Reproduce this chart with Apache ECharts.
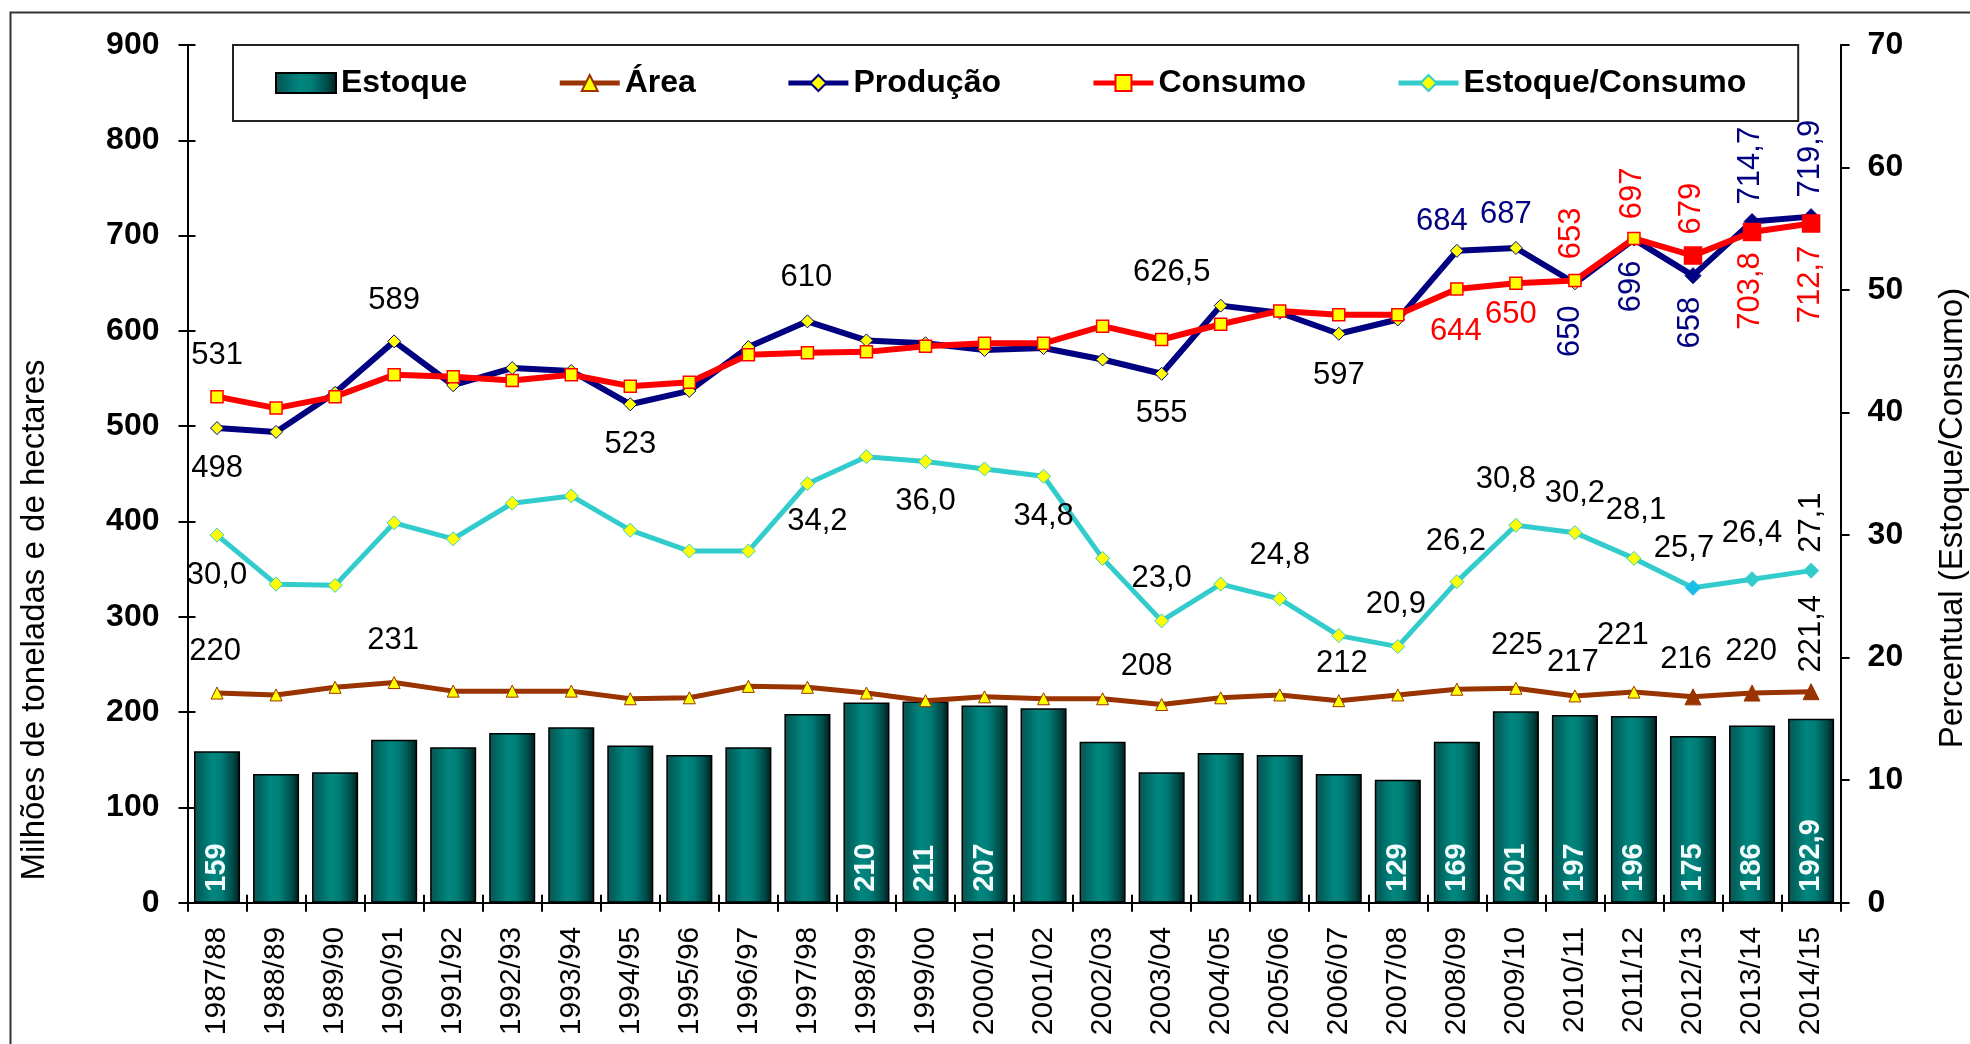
<!DOCTYPE html>
<html>
<head>
<meta charset="utf-8">
<script src="https://cdn.jsdelivr.net/npm/echarts@6/dist/echarts.min.js"></script>
<style>
html,body{margin:0;padding:0;background:#fff;}
#chart{width:1970px;height:1044px;}
</style>
</head>
<body>
<div id="chart"></div>
<script>
// ---------------- DATA ----------------
const categories = ['1987/88','1988/89','1989/90','1990/91','1991/92','1992/93','1993/94','1994/95','1995/96','1996/97','1997/98','1998/99','1999/00','2000/01','2001/02','2002/03','2003/04','2004/05','2005/06','2006/07','2007/08','2008/09','2009/10','2010/11','2011/12','2012/13','2013/14','2014/15'];
const estoque = [159, 135, 137, 171, 163, 178, 184, 165, 155, 163, 198, 210, 211, 207, 204, 169, 137, 157, 155, 135, 129, 169, 201, 197, 196, 175, 186, 192.9];
const area = [220, 218, 226, 231, 222, 222, 222, 214, 215, 227, 226, 220, 212, 216, 214, 214, 208, 215, 218, 212, 218, 224, 225, 217, 221, 216, 220, 221.4];
const producao = [498, 494, 535, 589, 543, 561, 558, 523, 537, 583, 610, 590, 587, 580, 582, 570, 555, 626.5, 619, 597, 612, 684, 687, 650, 696, 658, 714.7, 719.9];
const consumo = [531, 519, 531, 554, 552, 548, 554, 542, 546, 575, 577, 578, 584, 587, 587, 605, 591, 607, 621, 617, 617, 644, 650, 653, 697, 679, 703.8, 712.7];
const estoqueConsumo = [30.0, 26.0, 25.9, 31.0, 29.7, 32.6, 33.2, 30.4, 28.7, 28.7, 34.2, 36.4, 36.0, 35.4, 34.8, 28.1, 23.0, 26.0, 24.8, 21.8, 20.9, 26.2, 30.8, 30.2, 28.1, 25.7, 26.4, 27.1];
const leftTicks = [0, 100, 200, 300, 400, 500, 600, 700, 800, 900];
const rightTicks = [0, 10, 20, 30, 40, 50, 60, 70];
const seriesNames = ['Estoque', 'Área', 'Produção', 'Consumo', 'Estoque/Consumo'];

// ---------------- LAYOUT / STYLE ----------------
const projectionFrom = 25;
const FONT = "'Liberation Sans', Arial, Helvetica, sans-serif";
const NAVY = '#000080', RED = '#ff0000', BROWN = '#993300', TURQ = '#33cccc', YELLOW = '#ffff00';
// which bars show their value
const barLabelIdx = [0, 11, 12, 13, 20, 21, 22, 23, 24, 25, 26, 27];
// label placements (screen offsets from the point): [index, dx, dy, color, rotate]
const producaoLab = [[0,0,40,'#000',0],[3,0,-41,'#000',0],[7,0,40,'#000',0],[10,-1,-44,'#000',0],[16,0,40,'#000',0],[17,-49,-33,'#000',0],[19,0,42,'#000',0],[21,-15,-29,NAVY,0],[22,-10,-34,NAVY,0],[23,-4,48,NAVY,90],[24,-3,47,NAVY,90],[25,-3,47,NAVY,90],[26,-2,-56,NAVY,90],[27,-1,-58,NAVY,90]];
const consumoLab = [[0,0,-41,'#000',0],[21,-1,42,RED,0],[22,-5,31,RED,0],[23,-3,-47,RED,90],[24,-2,-45,RED,90],[25,-2,-47,RED,90],[26,-2,59,RED,90],[27,-1,61,RED,90]];
const ecLab = [[0,0,40,'#000',0],[10,10,38,'#000',0],[12,0,40,'#000',0],[14,0,40,'#000',0],[16,0,-42,'#000',0],[18,0,-43,'#000',0],[20,-2,-42,'#000',0],[21,-1,-40,'#000',0],[22,-10,-46,'#000',0],[23,0,-39,'#000',0],[24,2,-48,'#000',0],[25,-9,-39,'#000',0],[26,0,-46,'#000',0],[27,0,-48,'#000',90]];
const areaLab = [[0,-2,-42,'#000',0],[3,-1,-42,'#000',0],[16,-15,-38,'#000',0],[19,3,-37,'#000',0],[22,1,-43,'#000',0],[23,-2,-33,'#000',0],[24,-11,-57,'#000',0],[25,-7,-37,'#000',0],[26,-1,-42,'#000',0],[27,0,-58,'#000',90]];

function fmt(v){ return Number.isInteger(v) ? String(v) : v.toFixed(1).replace('.', ','); }
function fmt1(v){ return v.toFixed(1).replace('.', ','); }

function buildLine(values, labs, formatter, projStyle){
  const map = {};
  labs.forEach(l => { map[l[0]] = l; });
  return values.map((v, i) => {
    const item = { value: v };
    const l = map[i];
    if (l) {
      // offsets are applied in the label's rotated frame
      const off = l[4] === 90 ? [-l[2], l[1]] : [l[1], l[2]];
      item.label = { show: true, position: 'inside', offset: off, color: l[3], rotate: l[4],
        align: 'center', verticalAlign: 'middle', fontSize: 31, fontFamily: FONT,
        formatter: () => formatter(v) };
    }
    if (i >= projectionFrom && projStyle) {
      const s = projStyle(i);
      item.symbolSize = s.size;
      item.itemStyle = { color: s.color, borderColor: s.color };
    }
    return item;
  });
}

const barData = estoque.map((v, i) => {
  const item = { value: v };
  if (barLabelIdx.indexOf(i) >= 0) {
    item.label = { show: true, position: 'insideBottom', distance: 11, rotate: 90, align: 'left', verticalAlign: 'middle',
      color: '#f2fbfb', fontSize: 29, fontWeight: 'bold', fontFamily: FONT, formatter: () => fmt(v) };
  }
  return item;
});

const barGradient = new echarts.graphic.LinearGradient(0, 0, 1, 0, [
  { offset: 0, color: '#1d4f4d' },
  { offset: 0.12, color: '#00625e' },
  { offset: 0.4, color: '#00877f' },
  { offset: 0.6, color: '#007c76' },
  { offset: 0.85, color: '#004a47' },
  { offset: 1, color: '#001a19' }
]);

const legendData = [
  { name: 'Estoque', icon: 'rect', itemStyle: { color: barGradient, borderColor: '#000', borderWidth: 2 } },
  { name: 'Área', lineStyle: { width: 5, color: BROWN } },
  { name: 'Produção', lineStyle: { width: 5, color: NAVY } },
  { name: 'Consumo', lineStyle: { width: 5, color: RED } },
  { name: 'Estoque/Consumo', lineStyle: { width: 5, color: TURQ } }
];

const chart = echarts.init(document.getElementById('chart'), null, { renderer: 'canvas' });
const axisTxt = { color: '#000', fontFamily: FONT };
const option = {
  animation: false,
  backgroundColor: '#fff',
  textStyle: { fontFamily: FONT },
  grid: { left: 187.5, right: 129.4, top: 45, bottom: 141.3, containLabel: false },
  legend: {
    data: legendData,
    left: 233, top: 45,
    orient: 'horizontal',
    padding: [22, 52, 22, 42],
    itemGap: 90,
    itemWidth: 60, itemHeight: 20,
    borderColor: '#222', borderWidth: 2, backgroundColor: '#fff',
    lineStyle: { width: 5 },
    textStyle: { fontSize: 32, fontWeight: 'bold', color: '#000', fontFamily: FONT },
    selectedMode: false
  },
  xAxis: [{
    type: 'category', data: categories, boundaryGap: true,
    axisLine: { lineStyle: { color: '#000', width: 2 } },
    axisTick: { show: true, interval: 0, length: 9, lineStyle: { color: '#000', width: 2 } },
    axisLabel: { interval: 0, rotate: 90, margin: 24, fontSize: 30, ...axisTxt },
    splitLine: { show: false }
  }, {
    type: 'category', data: categories, boundaryGap: true, position: 'bottom', offset: 0,
    axisLine: { show: false },
    axisTick: { show: true, inside: true, interval: 0, length: 8, lineStyle: { color: '#000', width: 2 } },
    axisLabel: { show: false }, splitLine: { show: false }
  }],
  yAxis: [{
    type: 'value', min: leftTicks[0], max: leftTicks[leftTicks.length - 1], interval: leftTicks[1] - leftTicks[0],
    position: 'left',
    axisLine: { show: true, lineStyle: { color: '#000', width: 2 } },
    axisTick: { show: true, length: 9, lineStyle: { color: '#000', width: 2 } },
    axisLabel: { margin: 28, fontSize: 32, fontWeight: 'bold', ...axisTxt },
    splitLine: { show: false }
  }, {
    type: 'value', min: rightTicks[0], max: rightTicks[rightTicks.length - 1], interval: rightTicks[1] - rightTicks[0],
    position: 'right',
    axisLine: { show: true, lineStyle: { color: '#000', width: 2 } },
    axisTick: { show: true, length: 9, lineStyle: { color: '#000', width: 2 } },
    axisLabel: { margin: 27, fontSize: 32, fontWeight: 'bold', ...axisTxt },
    splitLine: { show: false }
  }, {
    type: 'value', min: leftTicks[0], max: leftTicks[leftTicks.length - 1], interval: leftTicks[1] - leftTicks[0],
    position: 'left', offset: 0,
    axisLine: { show: false },
    axisTick: { show: true, inside: true, length: 8, lineStyle: { color: '#000', width: 2 } },
    axisLabel: { show: false }, splitLine: { show: false }
  }],
  series: [{
    name: 'Estoque', type: 'bar', xAxisIndex: 0, yAxisIndex: 0, barWidth: '78%',
    data: barData,
    itemStyle: { color: barGradient, borderColor: '#000', borderWidth: 1.5 },
    z: 2
  }, {
    name: 'Área', type: 'line', yAxisIndex: 0,
    data: buildLine(area, areaLab, fmt, () => ({ size: 16, color: BROWN })),
    lineStyle: { color: BROWN, width: 5 },
    symbol: 'triangle', symbolSize: 12,
    itemStyle: { color: YELLOW, borderColor: BROWN, borderWidth: 1 },
    z: 3
  }, {
    name: 'Estoque/Consumo', type: 'line', yAxisIndex: 1,
    data: buildLine(estoqueConsumo, ecLab, fmt1, (i) => ({ size: 15, color: i === projectionFrom ? '#1cbde8' : TURQ })),
    lineStyle: { color: TURQ, width: 5 },
    symbol: 'diamond', symbolSize: 14,
    itemStyle: { color: YELLOW, borderColor: TURQ, borderWidth: 1 },
    z: 4
  }, {
    name: 'Produção', type: 'line', yAxisIndex: 0,
    data: buildLine(producao, producaoLab, fmt, () => ({ size: 16, color: NAVY })),
    lineStyle: { color: NAVY, width: 6 },
    symbol: 'diamond', symbolSize: 13,
    itemStyle: { color: YELLOW, borderColor: NAVY, borderWidth: 1 },
    z: 5
  }, {
    name: 'Consumo', type: 'line', yAxisIndex: 0,
    data: buildLine(consumo, consumoLab, fmt, () => ({ size: 17, color: RED })),
    lineStyle: { color: RED, width: 6 },
    symbol: 'rect', symbolSize: 12,
    itemStyle: { color: YELLOW, borderColor: RED, borderWidth: 1.5 },
    z: 6
  }],
  graphic: [{
    type: 'rect', left: 8, top: 10, z: -10, silent: true,
    shape: { x: 0, y: 0, width: 2100, height: 1200 },
    style: { fill: 'none', stroke: '#333', lineWidth: 2 }
  }, {
    type: 'text', x: 35, y: 620, rotation: Math.PI / 2, silent: true,
    style: { text: 'Milhões de toneladas e de hectares', font: '33px ' + FONT, fill: '#000', align: 'center', verticalAlign: 'middle' }
  }, {
    type: 'text', x: 1953, y: 518, rotation: Math.PI / 2, silent: true,
    style: { text: 'Percentual (Estoque/Consumo)', font: '33px ' + FONT, fill: '#000', align: 'center', verticalAlign: 'middle' }
  }]
};
chart.setOption(option);
</script>
</body>
</html>
